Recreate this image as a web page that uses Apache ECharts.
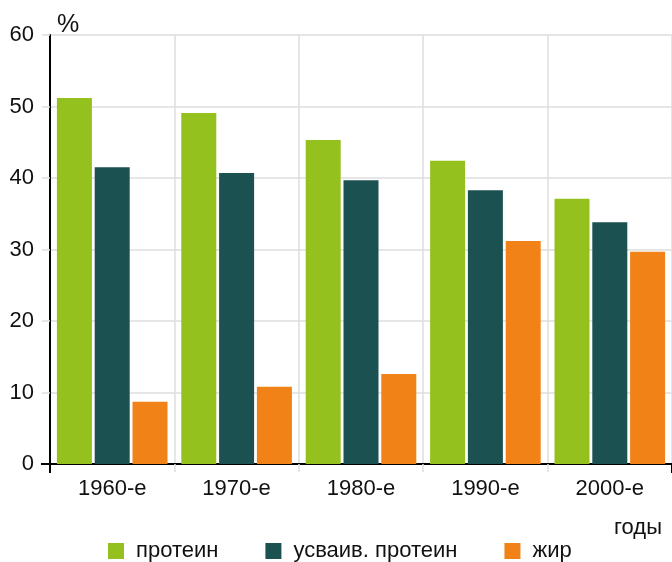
<!DOCTYPE html>
<html>
<head>
<meta charset="utf-8">
<script src="https://cdn.jsdelivr.net/npm/echarts@6/dist/echarts.min.js"></script>
<style>
  html, body { margin: 0; padding: 0; background: #fff; }
  #chart { width: 672px; height: 562px; }
</style>
</head>
<body>
<div id="chart"></div>
<script>
// Decades on the category axis
const decades = ['1960-е', '1970-е', '1980-е', '1990-е', '2000-е'];
// Shares, %
const protein = [51.2, 49.1, 45.3, 42.4, 37.1];
const digestibleProtein = [41.5, 40.7, 39.7, 38.3, 33.8];
const fat = [8.7, 10.8, 12.6, 31.2, 29.7];
// Series names shown in the legend
const seriesNames = ['протеин', 'усваив. протеин', 'жир'];
const seriesColors = ['#95c11f', '#1b5151', '#f08217'];

const FONT = 'Liberation Sans, Arial, sans-serif';
const TEXT = '#111';
const gridGray = '#dedede';

const chart = echarts.init(document.getElementById('chart'), null, { renderer: 'canvas' });

function bar(name, data, color) {
  return {
    name: name,
    type: 'bar',
    data: data,
    barWidth: 35,
    barGap: '8%',
    itemStyle: { color: color },
    emphasis: { disabled: true }
  };
}

chart.setOption({
  animation: false,
  backgroundColor: '#ffffff',
  textStyle: { fontFamily: FONT },
  title: [
    { text: '%', left: 52, top: 8, textStyle: { fontFamily: FONT, fontSize: 25, fontWeight: 'normal', color: TEXT } },
    { text: 'годы', right: 5, top: 512, textStyle: { fontFamily: FONT, fontSize: 22, fontWeight: 'normal', color: TEXT } }
  ],
  legend: {
    left: 103,
    top: 535,
    itemWidth: 16,
    itemHeight: 16,
    itemGap: 47,
    icon: 'rect',
    selectedMode: false,
    textStyle: { fontFamily: FONT, fontSize: 22, color: TEXT, padding: [0, 0, 0, 7] },
    data: seriesNames
  },
  grid: { left: 50, top: 35, width: 625, bottom: 98, containLabel: false },
  xAxis: [
    {
      type: 'category',
      data: decades,
      axisLine: { lineStyle: { color: '#000', width: 2 } },
      axisTick: { show: true, interval: 0, length: 8, lineStyle: { color: gridGray, width: 1.5 } },
      axisLabel: { fontFamily: FONT, fontSize: 22, color: TEXT, margin: 14 },
      splitLine: { show: true, interval: 0, lineStyle: { color: gridGray, width: 1.5 } }
    },
    {
      // extends the vertical axis a little below zero
      type: 'category',
      data: decades,
      position: 'bottom',
      axisLine: { show: false },
      axisTick: { show: true, interval: function (i) { return i === 0; }, length: 9, lineStyle: { color: '#000', width: 2 } },
      axisLabel: { show: false },
      splitLine: { show: false }
    }
  ],
  yAxis: [
    {
      type: 'value',
      min: 0,
      max: 60,
      interval: 10,
      axisLine: { show: true, lineStyle: { color: '#000', width: 2 } },
      axisTick: { show: true, length: 8, lineStyle: { color: gridGray, width: 1.5 } },
      axisLabel: { fontFamily: FONT, fontSize: 22, color: TEXT, margin: 16 },
      splitLine: { show: true, lineStyle: { color: gridGray, width: 1.5 } }
    },
    {
      // black tick continuing the zero line to the left
      type: 'value',
      min: 0,
      max: 60,
      interval: 10,
      position: 'left',
      axisLine: { show: false },
      axisTick: { show: true, customValues: [0], length: 9, lineStyle: { color: '#000', width: 2 } },
      axisLabel: { show: false },
      splitLine: { show: false }
    }
  ],
  series: [
    bar(seriesNames[0], protein, seriesColors[0]),
    bar(seriesNames[1], digestibleProtein, seriesColors[1]),
    bar(seriesNames[2], fat, seriesColors[2])
  ]
});
</script>
</body>
</html>
